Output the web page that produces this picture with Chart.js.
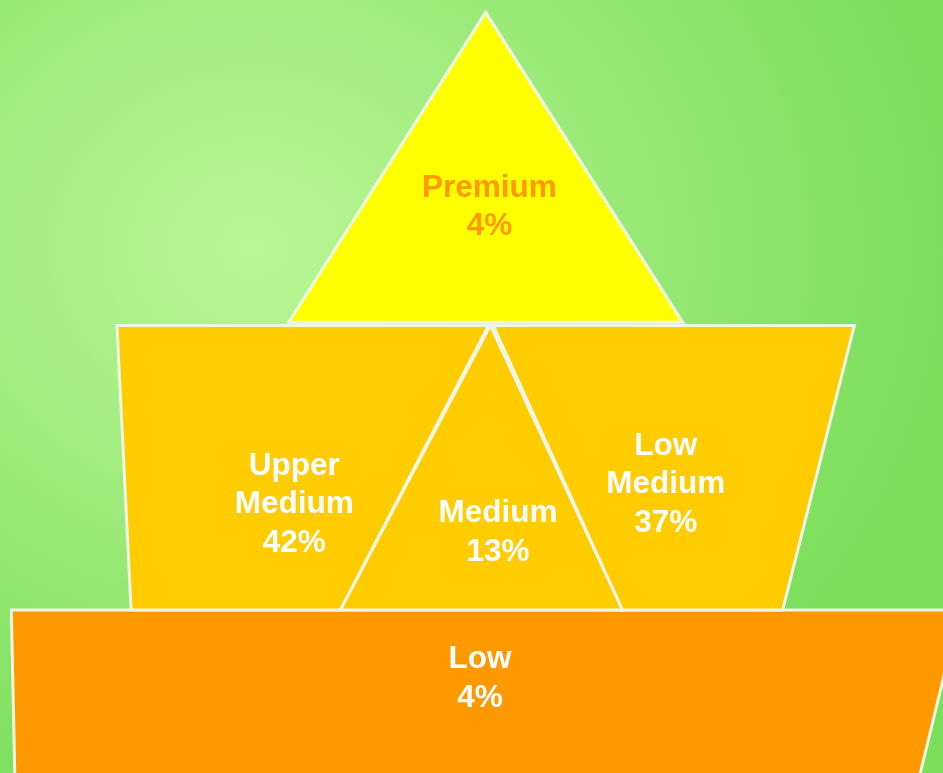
<!DOCTYPE html>
<html>
<head>
<meta charset="utf-8">
<script src="https://cdn.jsdelivr.net/npm/chart.js@4/dist/chart.umd.min.js"></script>
<style>
  html, body { margin: 0; padding: 0; }
  body {
    width: 943px; height: 773px; overflow: hidden;
    background: radial-gradient(ellipse 75% 80% at 27% 32%, #b7f795 0%, #a2ec80 40%, #86e265 80%, #7bdf5c 100%);
  }
  #wrap { position: relative; width: 943px; height: 773px; }
</style>
</head>
<body>
<div id="wrap"><canvas id="pyramid"></canvas></div>
<script>
// segment names and their share
const categories = ['Premium', 'Upper Medium', 'Medium', 'Low Medium', 'Low'];
const shares = [4, 42, 13, 37, 4];

// outline of each segment, in a 0-100 x 0-100 unit box (y up)
const outlines = [
  [[30.6, 58.3], [51.5, 98.4], [72.4, 58.3], [30.6, 58.3]],
  [[13.9, 21.1], [12.4, 57.9], [51.8, 57.9], [36.1, 21.1], [13.9, 21.1]],
  [[36.1, 21.1], [52.0, 57.9], [66.0, 21.1], [36.1, 21.1]],
  [[66.0, 21.1], [52.3, 57.9], [90.6, 57.9], [83.0, 21.1], [66.0, 21.1]],
  [[1.6, -2], [1.2, 21.1], [101.8, 21.1], [97.2, -2], [1.6, -2]]
];
// where the label block sits, same units
const labelAt = [[51.9, 73.2], [31.2, 34.7], [52.8, 31.1], [70.6, 37.3], [50.9, 12.2]];

const fills = ['#ffff00', '#ffcc00', '#ffcc00', '#ffcc00', '#ff9900'];
const textColors = ['#ff9900', '#ffffff', '#ffffff', '#ffffff', '#ffffff'];
const drawOrder = [1, 3, 2, 3, 4]; // lower = on top

const labelPlugin = {
  id: 'segmentLabels',
  afterDatasetsDraw(chart) {
    const { ctx, scales: { x, y } } = chart;
    ctx.save();
    ctx.font = 'bold 31.5px "Liberation Sans", Arial, sans-serif';
    ctx.textAlign = 'center';
    ctx.textBaseline = 'middle';
    categories.forEach((name, i) => {
      const lines = name.split(' ').concat(shares[i] + '%');
      const cx = x.getPixelForValue(labelAt[i][0]);
      const cy = y.getPixelForValue(labelAt[i][1]);
      const lh = 38.7;
      ctx.fillStyle = textColors[i];
      lines.forEach((t, k) => {
        ctx.fillText(t, cx, cy + (k - (lines.length - 1) / 2) * lh);
      });
    });
    ctx.restore();
  }
};

new Chart(document.getElementById('pyramid'), {
  type: 'scatter',
  data: {
    datasets: categories.map((c, i) => ({
      label: c,
      data: outlines[i].map(p => ({ x: p[0], y: p[1] })),
      showLine: true,
      fill: 'shape',
      backgroundColor: fills[i],
      borderColor: '#eef6e6',
      borderWidth: 3,
      borderCapStyle: 'square',
      borderJoinStyle: 'miter',
      tension: 0,
      pointRadius: 0,
      pointHoverRadius: 0,
      order: drawOrder[i]
    }))
  },
  options: {
    responsive: true,
    maintainAspectRatio: false,
    animation: false,
    layout: { padding: 0 },
    scales: {
      x: { type: 'linear', min: 0, max: 100, display: false },
      y: { type: 'linear', min: 0, max: 100, display: false }
    },
    plugins: { legend: { display: false }, tooltip: { enabled: false } }
  },
  plugins: [labelPlugin]
});
</script>
</body>
</html>
